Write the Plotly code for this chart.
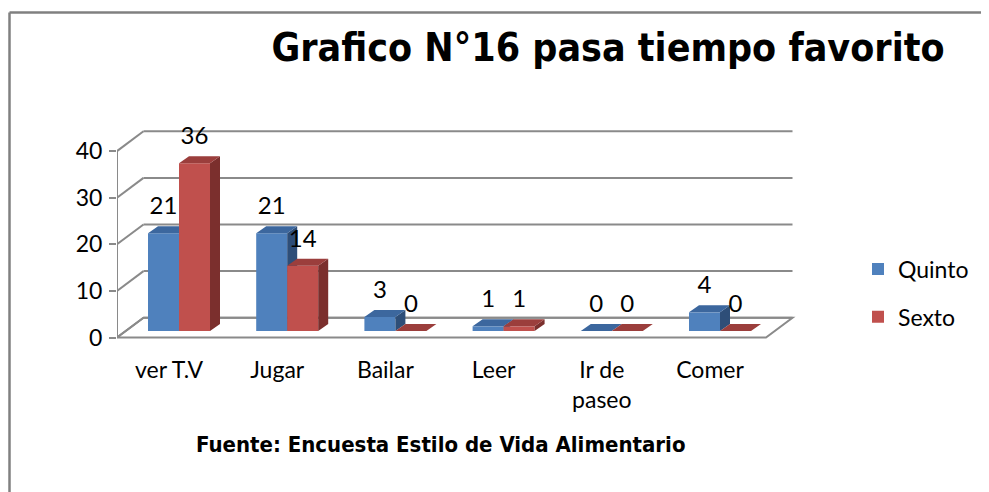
import plotly.graph_objects as go

# ---------------- data ----------------
categories = ["ver T.V", "Jugar", "Bailar", "Leer", "Ir de paseo", "Comer"]
tick_labels = ["ver T.V", "Jugar", "Bailar", "Leer", "Ir de<br>paseo", "Comer"]
quinto = [21, 21, 3, 1, 0, 4]
sexto = [36, 14, 0, 1, 0, 0]
y_ticks = [0, 10, 20, 30, 40]
series_names = ["Quinto", "Sexto"]
title_text = "Grafico N°16 pasa tiempo favorito"
source_text = "Fuente: Encuesta Estilo de Vida Alimentario"

# ---------------- geometry (screen pixels) ----------------
W, H = 989, 492
OFF = 8                                  # page body margin
PL, PR, PT, PB = 117, 800, 100, 350      # plot area in screen px
CAT_PX, CAT0_PX = 108.2, 179            # px per category, px of first group centre
UNIT_PX, ZERO_PY = 4.66, 337.5          # px per value unit, px of value 0 (front plane)
FLOOR_R_PX = 766


def xd(px):
    return (px - CAT0_PX) / CAT_PX


def yd(py):
    return (ZERO_PY - py) / UNIT_PX


def xp(px):
    return (px - PL) / (PR - PL)


def yp(py):
    return (PB - py) / (PB - PT)


BAR_W = 31 / CAT_PX
BASE = yd(331)
DDX, DDY = 10 / CAT_PX, 7 / UNIT_PX
WALL_DX, WALL_DY = 26.5 / CAT_PX, 19.8 / UNIT_PX
LABEL_DY = 25 / UNIT_PX
LABEL_SHIFT = -10 / CAT_PX

NARROW = "Liberation Sans Narrow, Arial Narrow, DejaVu Sans Condensed, sans-serif"
BODY = "Lato, Calibri, Carlito, sans-serif"
GRID = "#8A8A8A"

colors = [
    ("#4F81BD", "#3C679E", "#2E4E78"),
    ("#C0504D", "#9B3E3C", "#7B2F2D"),
]

fig = go.Figure()

for k, (name, vals) in enumerate(zip(series_names, [quinto, sexto])):
    front, top, side = colors[k]
    sign = -1 if k == 0 else 1
    xa, ya = ("x", "y") if k == 0 else ("x2", "y2")
    centers = [i + sign * BAR_W / 2 for i in range(len(categories))]
    fig.add_trace(go.Bar(
        x=centers, y=vals, base=BASE, width=BAR_W, name=name,
        marker=dict(color=front, line=dict(width=0)),
        legendgroup=name, xaxis=xa, yaxis=ya, hoverinfo="skip",
    ))
    tx, ty, sx, sy = [], [], [], []
    for c, v in zip(centers, vals):
        x0, x1 = c - BAR_W / 2, c + BAR_W / 2
        t = BASE + v
        tx += [x0, x1, x1 + DDX, x0 + DDX, x0, None]
        ty += [t, t, t + DDY, t + DDY, t, None]
        sx += [x1, x1, x1 + DDX, x1 + DDX, x1, None]
        sy += [BASE, t, t + DDY, BASE + DDY, BASE, None]
    fig.add_trace(go.Scatter(x=sx, y=sy, mode="lines", fill="toself", fillcolor=side,
                             line=dict(width=0, color=side), showlegend=False,
                             legendgroup=name, xaxis=xa, yaxis=ya, hoverinfo="skip"))
    fig.add_trace(go.Scatter(x=tx, y=ty, mode="lines", fill="toself", fillcolor=top,
                             line=dict(width=0, color=top), showlegend=False,
                             legendgroup=name, xaxis=xa, yaxis=ya, hoverinfo="skip"))

# data labels (top-most layer)
for k, vals in enumerate([quinto, sexto]):
    sign = -1 if k == 0 else 1
    centers = [i + sign * BAR_W / 2 for i in range(len(categories))]
    fig.add_trace(go.Scatter(
        x=centers, y=[v + BASE + LABEL_DY for v in vals], text=[str(v) for v in vals],
        mode="text", textposition="middle center",
        textfont=dict(family=BODY, size=24, color="#000000"),
        showlegend=False, xaxis="x2", yaxis="y2", hoverinfo="skip"))

# ---------------- walls, floor, frame ----------------
shapes = []
xL = xd(PL)
xR = xd(FLOOR_R_PX)
shapes.append(dict(type="path", xref="x", yref="y", layer="below",
                   path=f"M{xL},0 L{xR},0 L{xR + WALL_DX},{WALL_DY} L{xL + WALL_DX},{WALL_DY} Z",
                   fillcolor="white", line=dict(color=GRID, width=2)))
shapes.append(dict(type="line", xref="x", yref="y", layer="below",
                   x0=xL, x1=xL, y0=y_ticks[0], y1=y_ticks[-1], line=dict(color=GRID, width=2)))
for t in y_ticks:
    shapes.append(dict(type="line", xref="x", yref="y", layer="below",
                       x0=xL, y0=t, x1=xL + WALL_DX, y1=t + WALL_DY, line=dict(color=GRID, width=2)))
    shapes.append(dict(type="line", xref="x", yref="y", layer="below",
                       x0=xL + WALL_DX, y0=t + WALL_DY, x1=xR + WALL_DX, y1=t + WALL_DY,
                       line=dict(color=GRID, width=2)))
# outer frame (top and left border)
FRAME_X, FRAME_Y = 9.5, 12.5
shapes.append(dict(type="line", xref="paper", yref="paper", x0=xp(FRAME_X), y0=yp(FRAME_Y),
                   x1=xp(W + 20), y1=yp(FRAME_Y), line=dict(color="#808080", width=2.5)))
shapes.append(dict(type="line", xref="paper", yref="paper", x0=xp(FRAME_X), y0=yp(FRAME_Y),
                   x1=xp(FRAME_X), y1=yp(H + 20), line=dict(color="#808080", width=2.5)))

xrange = [xd(PL), xd(PR)]
yrange = [yd(PB), yd(PT)]

fig.update_layout(
    width=W, height=H,
    margin=dict(l=PL - OFF, r=W + OFF - PR, t=PT - OFF, b=H + OFF - PB, pad=0, autoexpand=False),
    paper_bgcolor="white", plot_bgcolor="rgba(0,0,0,0)",
    barmode="overlay",
    showlegend=True,
    title=dict(text=title_text, x=(608 - OFF) / W, xref="container", xanchor="center",
               y=1 - (47 - OFF) / H, yref="container", yanchor="middle", automargin=False,
               font=dict(family=NARROW, size=39, color="#000000", weight=700)),
    xaxis=dict(range=xrange, tickmode="array", automargin=False,
               tickvals=[i + LABEL_SHIFT for i in range(len(categories))], ticktext=tick_labels,
               showgrid=False, zeroline=False, showline=False, ticks="",
               ticklabelstandoff=4,
               tickfont=dict(family=BODY, size=23, color="#000000"), fixedrange=True),
    yaxis=dict(range=yrange, tickmode="array", tickvals=y_ticks, automargin=False,
               ticktext=[str(t) for t in y_ticks],
               showgrid=False, zeroline=False, showline=False,
               ticks="outside", ticklen=7, tickwidth=2, tickcolor=GRID,
               ticklabelstandoff=2,
               tickfont=dict(family=BODY, size=23, color="#000000"), fixedrange=True),
    xaxis2=dict(range=xrange, overlaying="x", visible=False, fixedrange=True),
    yaxis2=dict(range=yrange, overlaying="y", visible=False, fixedrange=True),
    legend=dict(x=xp(858), xanchor="left", y=yp(293), yanchor="middle",
                font=dict(family=BODY, size=23, color="#000000"),
                traceorder="grouped", tracegroupgap=15, bgcolor="rgba(0,0,0,0)"),
    shapes=shapes,
    annotations=[dict(text=source_text, xref="paper", yref="paper", x=xp(441), y=yp(444),
                      xanchor="center", yanchor="middle", showarrow=False,
                      font=dict(family=NARROW, size=22, color="#000000", weight=700))],
)

fig.write_html("out.html")
